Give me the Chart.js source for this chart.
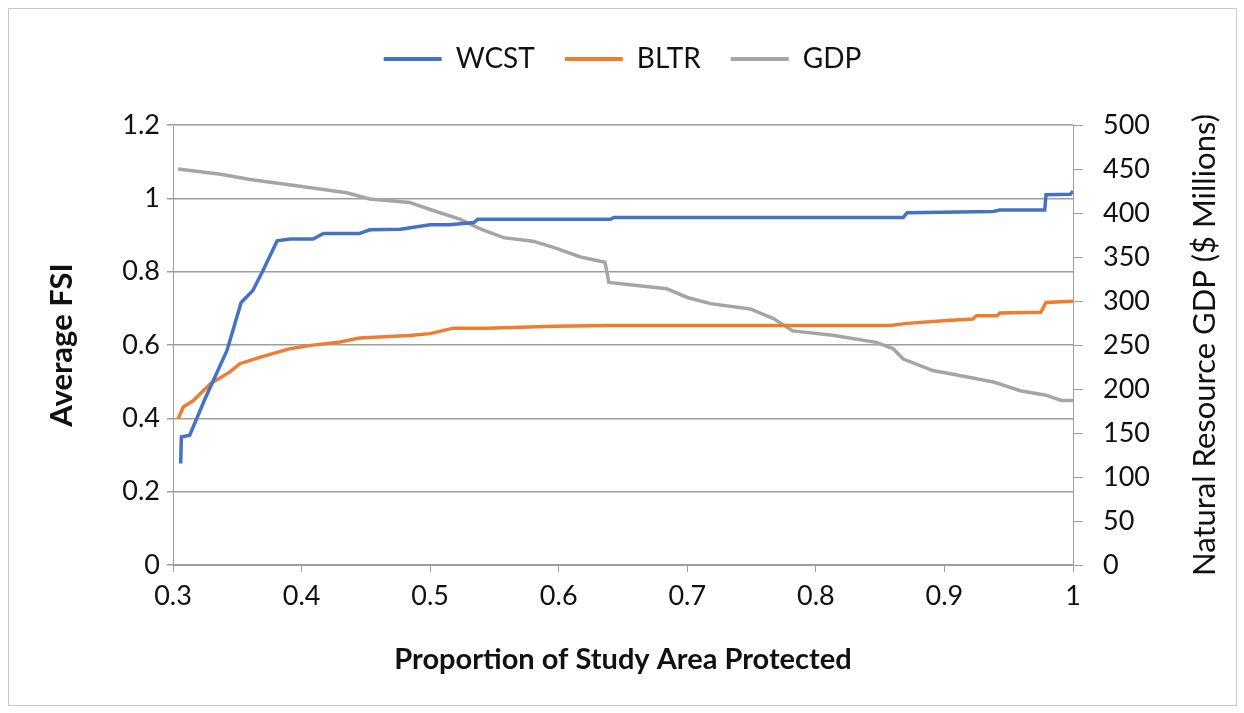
<!DOCTYPE html>
<html>
<head>
<meta charset="utf-8">
<script src="https://cdn.jsdelivr.net/npm/chart.js@4.4.0/dist/chart.umd.min.js"></script>
<style>
  body { margin: 0; background: #fff; }
  #frame { position: absolute; left: 8px; top: 8px; width: 1227px; height: 696px; border: 1px solid #c8c8c8; }
</style>
</head>
<body>
<div id="frame"><canvas id="chart" width="1227" height="696"></canvas></div>
<script>
const seriesNames = ['WCST', 'BLTR', 'GDP'];

const wcstX = [0.306, 0.3065, 0.313, 0.325, 0.342, 0.353, 0.362, 0.370, 0.381, 0.391, 0.409, 0.417, 0.445, 0.453, 0.477, 0.500, 0.515, 0.534, 0.537, 0.640, 0.643, 0.868, 0.871, 0.938, 0.943, 0.978, 0.979, 0.998, 1.0];
const wcstY = [0.277, 0.349, 0.354, 0.454, 0.585, 0.716, 0.748, 0.803, 0.884, 0.889, 0.889, 0.904, 0.904, 0.914, 0.916, 0.928, 0.928, 0.934, 0.943, 0.943, 0.948, 0.948, 0.961, 0.964, 0.968, 0.968, 1.010, 1.011, 1.02];

const bltrX = [0.304, 0.308, 0.316, 0.329, 0.344, 0.352, 0.368, 0.391, 0.407, 0.430, 0.445, 0.484, 0.500, 0.518, 0.544, 0.596, 0.640, 0.858, 0.871, 0.902, 0.922, 0.925, 0.941, 0.943, 0.975, 0.979, 1.0];
const bltrY = [0.399, 0.431, 0.449, 0.494, 0.526, 0.549, 0.567, 0.590, 0.599, 0.608, 0.619, 0.626, 0.631, 0.646, 0.646, 0.651, 0.653, 0.653, 0.659, 0.667, 0.671, 0.680, 0.680, 0.687, 0.689, 0.716, 0.719];

const gdpX = [0.304, 0.337, 0.360, 0.396, 0.435, 0.453, 0.484, 0.500, 0.523, 0.539, 0.557, 0.580, 0.596, 0.617, 0.636, 0.639, 0.684, 0.700, 0.718, 0.749, 0.767, 0.782, 0.813, 0.847, 0.860, 0.868, 0.891, 0.917, 0.938, 0.959, 0.979, 0.991, 1.0];
const gdpY = [450, 444, 438, 431, 423, 416, 412, 404, 393, 382, 372, 368, 361, 350, 344, 321, 314, 304, 297, 291, 280, 266, 261, 253, 246, 234, 221, 214, 208, 198, 193, 187, 187];

const xTicks = [0.3, 0.4, 0.5, 0.6, 0.7, 0.8, 0.9, 1];
const rightTitle = 'Natural Resource GDP ($ Millions)';

function pts(xs, ys) {
  return xs.map((x, i) => ({ x: x, y: ys[i] }));
}

const FONT = 'Lato, "Open Sans", sans-serif';
const GRID = '#9e9e9e';

// make the legend box taller so the plot starts lower
const legendSpace = {
  id: 'legendSpace',
  beforeInit(chart) {
    const fit = chart.legend.fit;
    chart.legend.fit = function () {
      fit.call(this);
      this.height += 42;
    };
  }
};

// right axis title reads bottom-to-top, like the left one
const rightAxisTitle = {
  id: 'rightAxisTitle',
  afterDraw(chart) {
    const ctx = chart.ctx;
    const area = chart.chartArea;
    const axis = chart.scales.y1;
    ctx.save();
    ctx.translate(axis.right - 31, (area.top + area.bottom) / 2);
    ctx.rotate(-Math.PI / 2);
    ctx.font = '31px ' + FONT;
    ctx.fillStyle = '#111';
    ctx.textAlign = 'center';
    ctx.textBaseline = 'middle';
    ctx.fillText(rightTitle, 0, 0);
    ctx.restore();
  }
};

new Chart(document.getElementById('chart'), {
  type: 'line',
  plugins: [legendSpace, rightAxisTitle],
  data: {
    datasets: [
      { label: seriesNames[0], data: pts(wcstX, wcstY), borderColor: '#4472C4', backgroundColor: '#4472C4', yAxisID: 'y' },
      { label: seriesNames[1], data: pts(bltrX, bltrY), borderColor: '#ED7D31', backgroundColor: '#ED7D31', yAxisID: 'y' },
      { label: seriesNames[2], data: pts(gdpX, gdpY), borderColor: '#A5A5A5', backgroundColor: '#A5A5A5', yAxisID: 'y1' }
    ]
  },
  options: {
    responsive: false,
    animation: false,
    elements: {
      line: { borderWidth: 3.5, tension: 0 },
      point: { radius: 0 }
    },
    layout: { padding: { top: 6, left: 0, right: 0, bottom: 0 } },
    plugins: {
      tooltip: { enabled: false },
      legend: {
        position: 'top',
        labels: {
          font: { family: FONT, size: 28 },
          color: '#111',
          boxWidth: 58,
          boxHeight: 4,
          padding: 30,
          generateLabels: chart => Chart.defaults.plugins.legend.labels.generateLabels(chart).map(l => ({ ...l, lineWidth: 0 }))
        }
      }
    },
    scales: {
      x: {
        type: 'linear',
        min: 0.3,
        max: 1,
        afterBuildTicks: axis => { axis.ticks = xTicks.map(v => ({ value: v })); },
        afterFit: axis => { axis.height = 140; },
        ticks: {
          font: { family: FONT, size: 27 },
          color: '#111',
          padding: 8,
          maxRotation: 0,
          callback: v => String(v)
        },
        grid: { display: true, drawOnChartArea: false, drawTicks: true, tickLength: 7, color: GRID },
        border: { display: true, color: GRID, width: 1 },
        title: {
          display: true,
          text: 'Proportion of Study Area Protected',
          font: { family: FONT, size: 29, weight: 'bold' },
          color: '#111',
          padding: { top: 4, bottom: 28 }
        }
      },
      y: {
        position: 'left',
        min: 0,
        max: 1.2,
        afterFit: axis => { axis.width = 164; },
        ticks: {
          stepSize: 0.2,
          font: { family: FONT, size: 27 },
          color: '#111',
          padding: 7,
          callback: v => String(Math.round(v * 10) / 10)
        },
        grid: { color: GRID, tickLength: 6, lineWidth: 1.5 },
        border: { display: true, color: GRID, width: 1 },
        title: {
          display: true,
          text: 'Average FSI',
          font: { family: FONT, size: 31, weight: 'bold' },
          color: '#111',
          padding: { top: 34 }
        }
      },
      y1: {
        position: 'right',
        min: 0,
        max: 500,
        afterFit: axis => { axis.width = 163; },
        ticks: {
          stepSize: 50,
          font: { family: FONT, size: 27 },
          color: '#111',
          padding: 20
        },
        grid: { drawOnChartArea: false, tickLength: 10, color: GRID },
        border: { display: true, color: GRID, width: 1 },
        title: { display: false }
      }
    }
  }
});
</script>
</body>
</html>
